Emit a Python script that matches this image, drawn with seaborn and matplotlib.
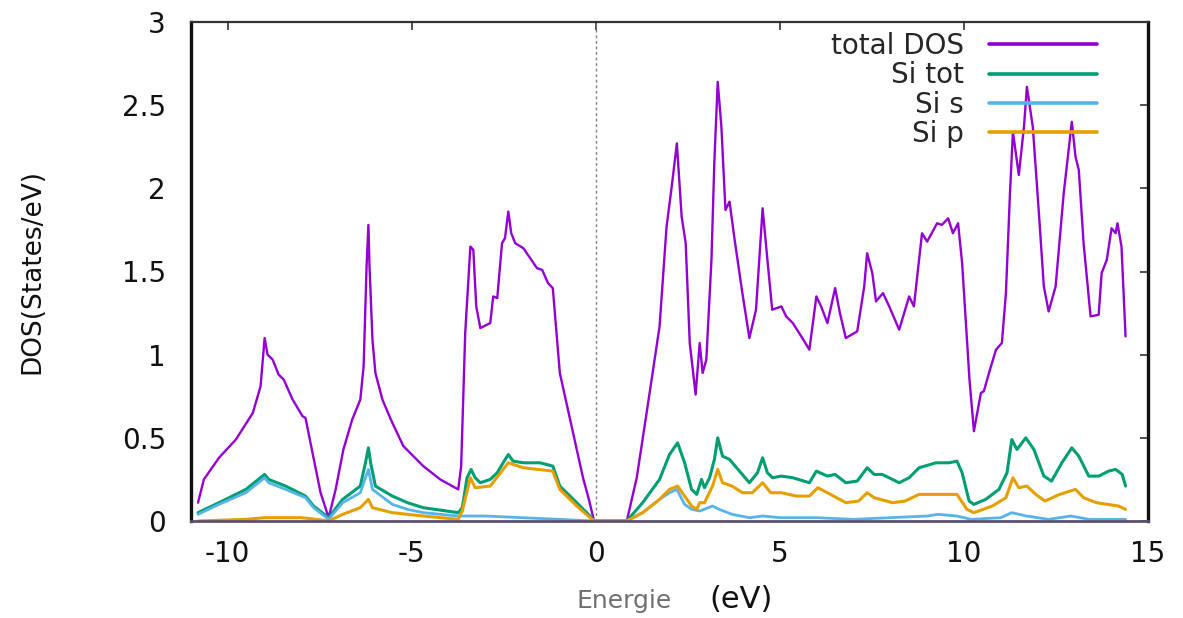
import matplotlib
matplotlib.use("Agg")
import matplotlib.pyplot as plt
import matplotlib.font_manager as fm
import seaborn as sns
import pandas as pd

# ---------------- data ----------------
e_total = [-10.81, -10.65, -10.24, -9.78, -9.32, -9.11, -9.00, -8.92, -8.78, -8.62, -8.48,
           -8.24, -7.97, -7.89, -7.70, -7.48, -7.26, -7.07, -6.86, -6.62, -6.40, -6.31,
           -6.23, -6.18, -6.15, -6.07, -5.99, -5.80, -5.55, -5.23, -4.69, -4.23, -3.74,
           -3.66, -3.55, -3.41, -3.33, -3.25, -3.14, -2.87, -2.79, -2.68, -2.55, -2.47,
           -2.38, -2.30, -2.19, -1.97, -1.60, -1.46, -1.30, -1.17, -0.98, -0.70, -0.35,
           -0.19, -0.05, 0.84, 1.11, 1.46, 1.73, 1.92, 2.06, 2.20, 2.33, 2.44, 2.55,
           2.71, 2.82, 2.90, 3.00, 3.14, 3.22, 3.31, 3.41, 3.52, 3.63, 3.77, 3.98, 4.17,
           4.35, 4.53, 4.66, 4.79, 5.04, 5.17, 5.35, 5.58, 5.80, 5.99, 6.12, 6.29, 6.50,
           6.63, 6.79, 7.10, 7.29, 7.37, 7.51, 7.61, 7.80, 7.97, 8.24, 8.51, 8.64, 8.86,
           9.00, 9.27, 9.40, 9.57, 9.70, 9.84, 9.95, 10.05, 10.15, 10.27, 10.46, 10.54,
           10.68, 10.87, 11.03, 11.14, 11.25, 11.33, 11.49, 11.63, 11.71, 11.87, 12.03,
           12.17, 12.30, 12.49, 12.71, 12.93, 13.03, 13.12, 13.25, 13.44, 13.66, 13.74,
           13.88, 14.01, 14.12, 14.17, 14.28, 14.39]
dos_total = [0.11, 0.25, 0.38, 0.49, 0.65, 0.81, 1.10, 1.00, 0.97, 0.88, 0.85,
             0.73, 0.63, 0.62, 0.41, 0.17, 0.02, 0.19, 0.43, 0.61, 0.73, 0.93,
             1.53, 1.78, 1.53, 1.09, 0.89, 0.73, 0.60, 0.45, 0.33, 0.25, 0.19,
             0.33, 1.13, 1.65, 1.63, 1.29, 1.16, 1.19, 1.35, 1.34, 1.67, 1.70,
             1.86, 1.73, 1.67, 1.64, 1.52, 1.51, 1.43, 1.40, 0.89, 0.61, 0.26,
             0.13, 0.00, 0.00, 0.26, 0.77, 1.17, 1.77, 2.01, 2.27, 1.83, 1.67, 1.07,
             0.76, 1.07, 0.89, 0.97, 1.57, 2.17, 2.64, 2.37, 1.87, 1.92, 1.69, 1.37, 1.10,
             1.27, 1.88, 1.57, 1.27, 1.29, 1.23, 1.19, 1.11, 1.03, 1.35, 1.29, 1.19, 1.40,
             1.25, 1.10, 1.14, 1.41, 1.61, 1.49, 1.32, 1.37, 1.29, 1.15, 1.35, 1.29, 1.73,
             1.68, 1.79, 1.78, 1.82, 1.73, 1.79, 1.55, 1.20, 0.85, 0.54, 0.77, 0.78,
             0.89, 1.03, 1.07, 1.37, 1.97, 2.34, 2.08, 2.37, 2.61, 2.37, 1.87,
             1.41, 1.26, 1.41, 1.97, 2.40, 2.19, 2.11, 1.67, 1.23, 1.24, 1.49,
             1.57, 1.76, 1.73, 1.79, 1.65, 1.11]

e_si_tot = [-10.81, -10.24, -9.51, -9.00, -8.89, -8.43, -7.89, -7.67, -7.26, -6.88, -6.40,
            -6.26, -6.18, -6.12, -5.99, -5.53, -5.12, -4.69, -3.74, -3.63, -3.50, -3.39,
            -3.28, -3.14, -2.87, -2.68, -2.52, -2.38, -2.25, -1.97, -1.52, -1.17, -0.98,
            -0.52, -0.16, -0.05, 0.84, 1.27, 1.73, 2.00, 2.22, 2.41, 2.60, 2.74, 2.87,
            2.95, 3.09, 3.22, 3.31, 3.44, 3.63, 3.90, 4.17, 4.39, 4.53, 4.66, 4.80, 5.04,
            5.35, 5.80, 5.99, 6.29, 6.50, 6.79, 7.10, 7.37, 7.56, 7.78, 8.24, 8.51, 8.78,
            9.24, 9.60, 9.81, 9.95, 10.14, 10.27, 10.59, 10.95, 11.17, 11.30, 11.44, 11.68,
            11.90, 12.17, 12.38, 12.66, 12.93, 13.12, 13.39, 13.66, 13.93, 14.12, 14.30, 14.39]
dos_si_tot = [0.05, 0.11, 0.19, 0.28, 0.25, 0.21, 0.15, 0.09, 0.02, 0.13, 0.21,
              0.35, 0.44, 0.35, 0.21, 0.15, 0.11, 0.08, 0.05, 0.08, 0.26, 0.31,
              0.26, 0.23, 0.25, 0.29, 0.35, 0.40, 0.36, 0.35, 0.35, 0.33, 0.21,
              0.11, 0.03, 0.00, 0.00, 0.11, 0.25, 0.40, 0.47, 0.35, 0.19, 0.16, 0.25,
              0.20, 0.26, 0.37, 0.50, 0.39, 0.37, 0.30, 0.23, 0.29, 0.38, 0.29, 0.26, 0.27,
              0.26, 0.23, 0.30, 0.27, 0.28, 0.23, 0.24, 0.32, 0.28, 0.28, 0.23, 0.26, 0.32,
              0.35, 0.35, 0.36, 0.29, 0.12, 0.10, 0.13, 0.19, 0.29, 0.49, 0.43, 0.50,
              0.43, 0.27, 0.24, 0.35, 0.44, 0.39, 0.27, 0.27, 0.30, 0.31, 0.28, 0.21]

e_si_s = [-10.81, -10.24, -9.51, -9.00, -8.89, -8.43, -7.89, -7.67, -7.26, -6.88, -6.40,
          -6.26, -6.18, -6.07, -5.53, -5.12, -4.69, -3.74, -3.00, -2.00, -1.00, -0.05,
          0.84, 1.27, 1.73, 2.00, 2.20, 2.41, 2.60, 2.82, 3.17, 3.35, 3.70, 4.17, 4.53,
          5.00, 6.00, 7.00, 8.00, 9.00, 9.30, 9.80, 10.20, 11.00, 11.30, 11.70, 12.30,
          12.90, 13.40, 14.39]
dos_si_s = [0.04, 0.10, 0.17, 0.26, 0.23, 0.19, 0.14, 0.08, 0.01, 0.11, 0.17,
            0.26, 0.31, 0.19, 0.10, 0.07, 0.05, 0.03, 0.03, 0.02, 0.01, 0.00,
            0.00, 0.05, 0.13, 0.17, 0.19, 0.10, 0.07, 0.06, 0.09, 0.07, 0.04, 0.02, 0.03,
            0.02, 0.02, 0.01, 0.02, 0.03, 0.04, 0.03, 0.01, 0.02, 0.05, 0.03, 0.01,
            0.03, 0.01, 0.01]

e_si_p = [-10.81, -9.50, -9.00, -8.00, -7.60, -7.26, -6.88, -6.40, -6.18, -6.07, -5.53,
          -4.69, -3.74, -3.63, -3.41, -3.28, -2.87, -2.52, -2.38, -1.97, -1.17, -0.98,
          -0.52, -0.05, 0.84, 1.27, 1.73, 2.00, 2.22, 2.41, 2.60, 2.74, 2.82, 2.95, 3.17,
          3.31, 3.44, 3.70, 3.98, 4.25, 4.53, 4.75, 5.04, 5.44, 5.80, 6.03, 6.29, 6.79,
          7.14, 7.37, 7.56, 8.06, 8.40, 8.78, 9.30, 9.81, 10.08, 10.27, 10.77, 11.14,
          11.33, 11.49, 11.71, 11.95, 12.20, 12.60, 13.03, 13.25, 13.60, 14.20, 14.39]
dos_si_p = [0.00, 0.01, 0.02, 0.02, 0.01, 0.00, 0.04, 0.08, 0.13, 0.08, 0.05,
            0.03, 0.01, 0.06, 0.26, 0.20, 0.21, 0.31, 0.35, 0.32, 0.30, 0.19,
            0.09, 0.00, 0.00, 0.05, 0.13, 0.19, 0.21, 0.15, 0.09, 0.07, 0.11, 0.11, 0.21,
            0.31, 0.23, 0.21, 0.17, 0.17, 0.23, 0.17, 0.17, 0.15, 0.15, 0.20, 0.17, 0.11,
            0.12, 0.17, 0.14, 0.11, 0.12, 0.16, 0.16, 0.16, 0.07, 0.05, 0.09, 0.14,
            0.26, 0.20, 0.21, 0.16, 0.12, 0.16, 0.19, 0.14, 0.11, 0.09, 0.07]

series_names = ["total DOS", "Si tot", "Si s", "Si p"]
series_colors = ["#9400D3", "#009E73", "#56B4E9", "#E69F00"]
x_ticks = [-10, -5, 0, 5, 10, 15]
y_ticks = [0, 0.5, 1, 1.5, 2, 2.5, 3]
y_ticklabels = ["0", "0.5", "1", "1.5", "2", "2.5", "3"]

# ---------------- style ----------------
sns.set_theme(style="white")
plt.rcParams["font.family"] = ["DejaVu Sans"]
plt.rcParams["axes.unicode_minus"] = False

W, H = 1183, 618
fig = plt.figure(figsize=(W / 100, H / 100), dpi=100)
ax = fig.add_axes([191 / W, (H - 521) / H, 957 / W, 499 / H])

frames = [
    pd.DataFrame({"E": e_total, "DOS": dos_total, "series": series_names[0]}),
    pd.DataFrame({"E": e_si_tot, "DOS": dos_si_tot, "series": series_names[1]}),
    pd.DataFrame({"E": e_si_s, "DOS": dos_si_s, "series": series_names[2]}),
    pd.DataFrame({"E": e_si_p, "DOS": dos_si_p, "series": series_names[3]}),
]
widths = [1.7, 2.2, 2.0, 2.2]
for df, name, col, lw in zip(frames, series_names, series_colors, widths):
    sns.lineplot(data=df, x="E", y="DOS", ax=ax, color=col, lw=lw, label=name,
                 sort=False, estimator=None)

ax.axvline(0, color="#808080", lw=1.0, ls=(0, (2, 2)), zorder=1)

ax.set_xlim(-11, 15)
ax.set_ylim(0, 3)
ax.set_xticks(x_ticks)
ax.set_xticklabels([str(t) for t in x_ticks])
ax.set_yticks(y_ticks)
ax.set_yticklabels(y_ticklabels)
ax.tick_params(axis="both", direction="in", length=5.5, width=1.1, color="#222222",
               labelsize=20, labelcolor="#111111", top=True, right=True)
ax.tick_params(axis="x", pad=14)
ax.tick_params(axis="y", pad=18)
ax.grid(False)

for side, lw, col in [("left", 2.4, "#111111"), ("right", 2.4, "#111111"),
                      ("top", 1.6, "#333333"), ("bottom", 2.0, "#5e4f6e")]:
    ax.spines[side].set_visible(True)
    ax.spines[side].set_linewidth(lw)
    ax.spines[side].set_color(col)
    ax.spines[side].set_zorder(5)

# y label (condensed font if available)
names = {f.name for f in fm.fontManager.ttflist}
if "Liberation Sans Narrow" in names:
    yl_family, yl_size = ["Liberation Sans Narrow", "DejaVu Sans"], 24
else:
    yl_family, yl_size = ["DejaVu Sans"], 19
ax.set_ylabel("DOS(States/eV)", fontsize=yl_size, family=yl_family, color="#111111",
              va="center")
ax.yaxis.set_label_coords((32 - 191) / 957, 0.5)

# x label: grey "Energie" + black "(eV)"
ax.set_xlabel("")
fig.text(624 / W, 1 - 601 / H, "Energie", fontsize=18, color="#707070",
         ha="center", va="center")
fig.text(741 / W, 1 - 600 / H, "(eV)", fontsize=22, color="#111111",
         ha="center", va="center")

# legend
leg = ax.legend(loc="upper right", bbox_to_anchor=(1097 / W, 1 - 32 / H),
                bbox_transform=fig.transFigure, frameon=False, markerfirst=False,
                fontsize=20, handlelength=3.9, handletextpad=0.9,
                labelspacing=0.05, borderaxespad=0, borderpad=0)
for line in leg.get_lines():
    line.set_linewidth(2.6)

fig.savefig("out.png", dpi=100)
